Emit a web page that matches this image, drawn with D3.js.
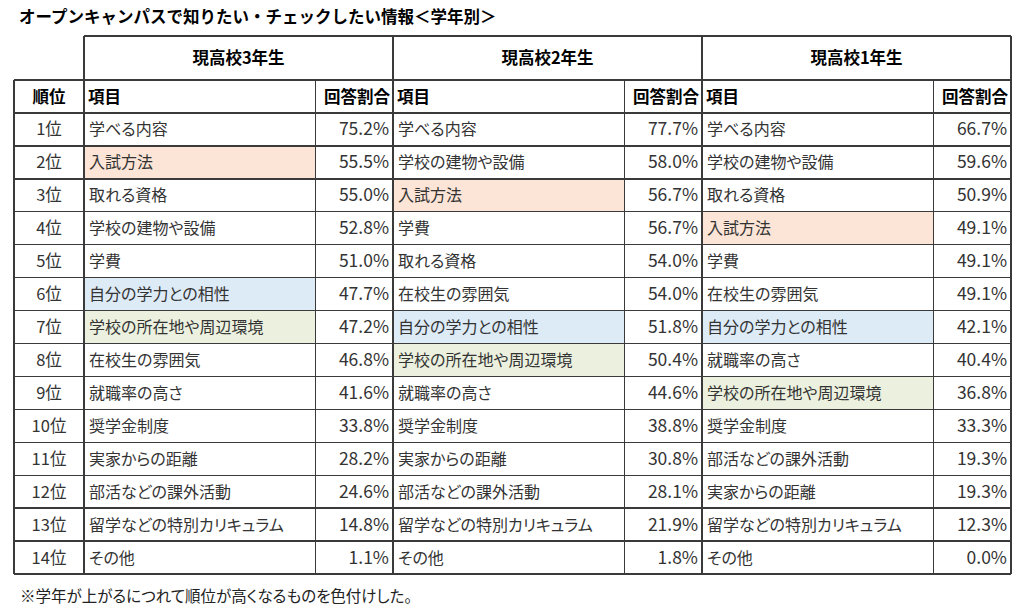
<!DOCTYPE html>
<html><head><meta charset="utf-8">
<script src="https://cdn.jsdelivr.net/npm/d3@7"></script>
<style>
html,body{margin:0;padding:0;background:#fff;}
svg{display:block;font-family:"Noto Sans CJK JP","Noto Sans",sans-serif;}
.palt{font-feature-settings:"palt";}
</style></head>
<body><svg id="c" width="1024" height="611"></svg>
<script>
const title = "オープンキャンパスで知りたい・チェックしたい情報＜学年別＞";
const footnote = "※学年が上がるにつれて順位が高くなるものを色付けした。";
const groups = ["現高校3年生", "現高校2年生", "現高校1年生"];
const colHeaders = ["順位", "項目", "回答割合"];
const ranks = ["1位","2位","3位","4位","5位","6位","7位","8位","9位","10位","11位","12位","13位","14位"];
const items3 = ["学べる内容","入試方法","取れる資格","学校の建物や設備","学費","自分の学力との相性","学校の所在地や周辺環境","在校生の雰囲気","就職率の高さ","奨学金制度","実家からの距離","部活などの課外活動","留学などの特別カリキュラム","その他"];
const pct3 = [75.2,55.5,55.0,52.8,51.0,47.7,47.2,46.8,41.6,33.8,28.2,24.6,14.8,1.1];
const items2 = ["学べる内容","学校の建物や設備","入試方法","学費","取れる資格","在校生の雰囲気","自分の学力との相性","学校の所在地や周辺環境","就職率の高さ","奨学金制度","実家からの距離","部活などの課外活動","留学などの特別カリキュラム","その他"];
const pct2 = [77.7,58.0,56.7,56.7,54.0,54.0,51.8,50.4,44.6,38.8,30.8,28.1,21.9,1.8];
const items1 = ["学べる内容","学校の建物や設備","取れる資格","入試方法","学費","在校生の雰囲気","自分の学力との相性","就職率の高さ","学校の所在地や周辺環境","奨学金制度","部活などの課外活動","実家からの距離","留学などの特別カリキュラム","その他"];
const pct1 = [66.7,59.6,50.9,49.1,49.1,49.1,42.1,40.4,36.8,33.3,19.3,19.3,12.3,0.0];
const highlighted = ["入試方法","自分の学力との相性","学校の所在地や周辺環境"];

const svg = d3.select("#c");
const lineCol = "#3a3a3a", lw = 1.4;
const highlightColor = d3.scaleOrdinal().domain(highlighted).range(["#fce4d6","#ddebf7","#ebf1de"]);

// layout
const left = 14, rankRight = 84;
const groupX = d3.scaleBand().domain(groups).range([84, 1011]);
const gw = groupX.bandwidth();
const pctW = 77.5;
const topY = 36, groupBottom = 80, headBottom = 113, bottom = 574;
const y = d3.scaleBand().domain(ranks).range([headBottom, bottom]);
const fmt = d3.format(".1f");

const data = [
  {g: groups[0], items: items3, pct: pct3},
  {g: groups[1], items: items2, pct: pct2},
  {g: groups[2], items: items1, pct: pct1}
];

// highlight cells
data.forEach(d => {
  const x0 = groupX(d.g);
  svg.append("g").selectAll("rect")
    .data(d.items.map((it,i)=>({it, r: ranks[i]})).filter(o => highlighted.includes(o.it)))
    .join("rect")
    .attr("x", x0).attr("y", o => y(o.r))
    .attr("width", gw - pctW).attr("height", y.bandwidth())
    .attr("fill", o => highlightColor(o.it));
});

// title
svg.append("text").attr("x", 19).attr("y", 23).attr("font-size", 16.5).attr("font-weight", "bold")
  .attr("fill", "#000").text(title);

// group headers
svg.append("g").selectAll("text").data(groups).join("text")
  .attr("x", g => groupX(g) + gw/2).attr("y", (topY+groupBottom)/2 + 6)
  .attr("text-anchor", "middle").attr("font-size", 16.5).attr("font-weight", "bold").attr("fill","#000")
  .text(g => g);

// column headers
const hy = (groupBottom+headBottom)/2 + 6;
svg.append("text").attr("x", (left+rankRight)/2).attr("y", hy).attr("text-anchor","middle")
  .attr("font-size", 16.5).attr("font-weight","bold").text(colHeaders[0]);
groups.forEach(g => {
  const x0 = groupX(g);
  svg.append("text").attr("x", x0+4).attr("y", hy).attr("font-size",16.5).attr("font-weight","bold").text(colHeaders[1]);
  svg.append("text").attr("x", x0+gw-3).attr("y", hy).attr("text-anchor","end").attr("font-size",16.5).attr("font-weight","bold").text(colHeaders[2]);
});

// ranks
svg.append("g").selectAll("text").data(ranks).join("text")
  .attr("x", (left+rankRight)/2).attr("y", r => y(r)+y.bandwidth()/2+6)
  .attr("text-anchor","middle").attr("font-size",16.5).attr("fill","#333").text(r => r);

// body
data.forEach(d => {
  const x0 = groupX(d.g);
  const g = svg.append("g");
  g.selectAll("text.it").data(d.items).join("text").attr("class","it palt")
    .attr("x", x0+5).attr("y", (v,i)=> y(ranks[i])+y.bandwidth()/2+6)
    .attr("font-size",16).attr("fill","#333").text(v=>v);
  g.selectAll("text.pc").data(d.pct).join("text").attr("class","pc")
    .attr("x", x0+gw-4).attr("y", (v,i)=> y(ranks[i])+y.bandwidth()/2+6)
    .attr("text-anchor","end").attr("font-size",17.5).attr("fill","#333").text(v=>fmt(v)+"%");
});

// grid lines
const L = svg.append("g").attr("stroke", lineCol).attr("stroke-width", lw).attr("shape-rendering","crispEdges");
L.append("line").attr("x1", rankRight).attr("x2", 1011).attr("y1", topY).attr("y2", topY);
L.append("line").attr("x1", left).attr("x2", 1011).attr("y1", groupBottom).attr("y2", groupBottom);
L.append("line").attr("x1", left).attr("x2", 1011).attr("y1", headBottom).attr("y2", headBottom);
L.selectAll("line.h").data(ranks).join("line").attr("class","h")
  .attr("x1", left).attr("x2", 1011).attr("y1", r => y(r)+y.bandwidth()).attr("y2", r => y(r)+y.bandwidth());
L.append("line").attr("x1", left).attr("x2", left).attr("y1", groupBottom).attr("y2", bottom);
groups.forEach(g => {
  const x0 = groupX(g);
  L.append("line").attr("x1", x0).attr("x2", x0).attr("y1", topY).attr("y2", bottom);
  L.append("line").attr("x1", x0+gw-pctW).attr("x2", x0+gw-pctW).attr("y1", groupBottom).attr("y2", bottom);
});
L.append("line").attr("x1", 1011).attr("x2", 1011).attr("y1", topY).attr("y2", bottom);

// footnote
svg.append("text").attr("class","palt").attr("x", 20).attr("y", 602).attr("font-size", 15.5).attr("fill","#222").text(footnote);
</script></body></html>
